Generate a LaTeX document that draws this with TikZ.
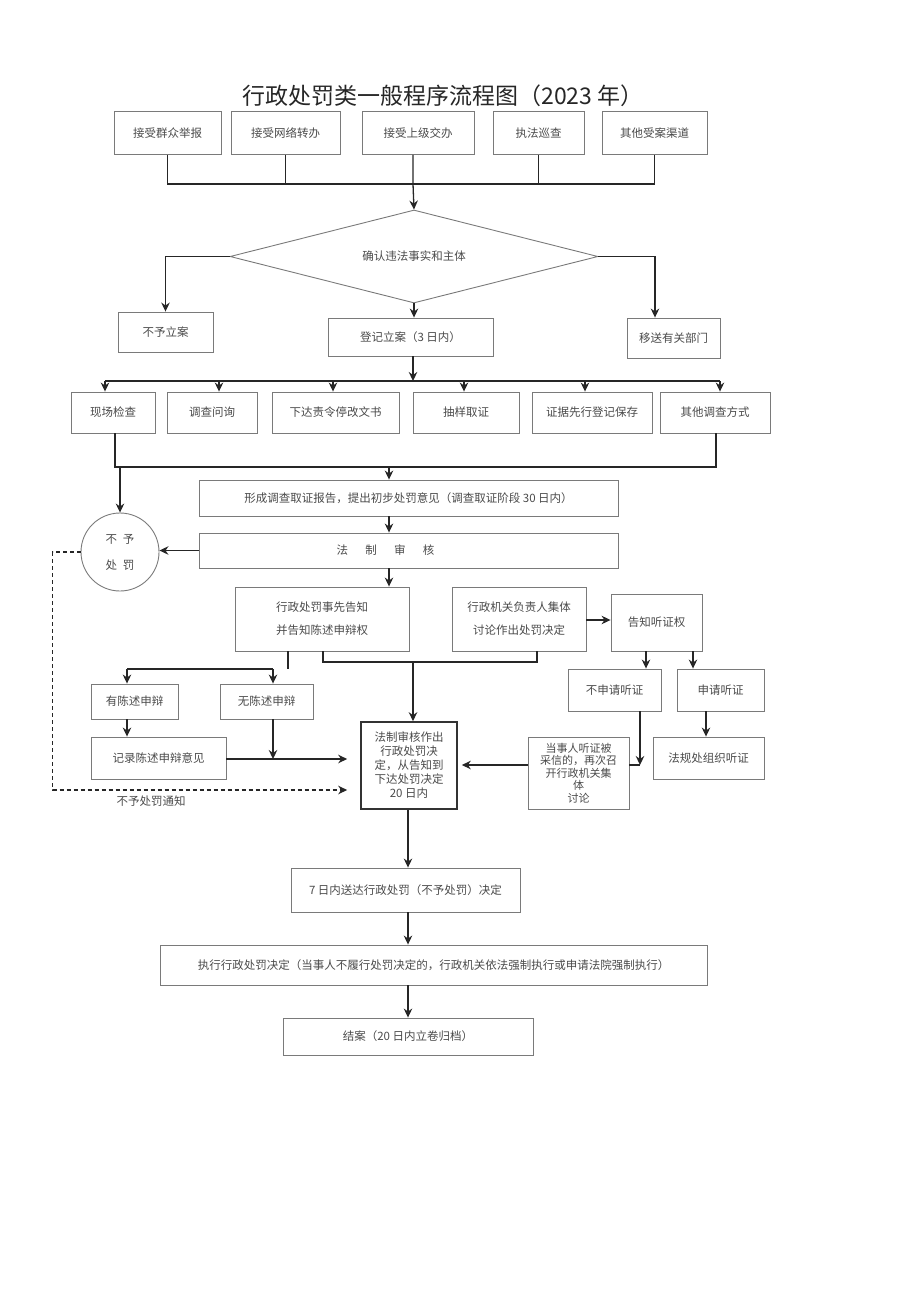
\documentclass[tikz,border=0pt]{standalone}
\usepackage{fontspec}
\setmainfont{Noto Sans CJK SC}
\usetikzlibrary{shapes.geometric,arrows.meta}
\definecolor{boxline}{HTML}{7A7A7A}
\definecolor{boxtext}{HTML}{4A4A4A}
\newcommand{\fs}{\fontsize{11.5}{14}\selectfont}
\begin{document}
\begin{tikzpicture}[x=1pt, y=-1pt,
    box/.style={draw=boxline, line width=0.9pt, inner sep=1pt, align=center,
                font=\fs, text=boxtext},
    conn/.style={draw=black!85, line width=1.3pt},
    arr/.style={conn, -{Stealth[length=9pt,width=8.5pt]}},
    dsh/.style={arr, dashed, dash pattern=on 4pt off 3pt},
  ]
  \useasboundingbox (0,0) rectangle (920,1301);

  % title
  \node[font=\fontsize{23}{25}\selectfont, text=black!85] (title) at (443,96)
    {行政处罚类一般程序流程图（2023 年）};

  % case sources
  \node[box, minimum width=107, minimum height=43] (t1) at (167.5,133) {接受群众举报};
  \node[box, minimum width=109, minimum height=43] (t2) at (285.5,133) {接受网络转办};
  \node[box, minimum width=112, minimum height=43] (t3) at (418,133)   {接受上级交办};
  \node[box, minimum width=91,  minimum height=43] (t4) at (538.5,133) {执法巡查};
  \node[box, minimum width=105, minimum height=43] (t5) at (654.5,133) {其他受案渠道};

  \coordinate (hub) at (413,184);
  \draw[conn] (t1.south) |- (t5.south |- hub) -- (t5.south);
  \draw[conn] (t2.south) -- (t2.south |- hub);
  \draw[conn] (t4.south) -- (t4.south |- hub);

  % filing decision
  \node[box, diamond, aspect=3.96, minimum width=368, minimum height=93, inner sep=0]
    (dia) at (414,256.5) {确认违法事实和主体};
  \node[box, minimum width=95,  minimum height=40] (nbl) at (165.5,332) {不予立案};
  \node[box, minimum width=165, minimum height=38] (djl) at (410.5,337) {登记立案（3 日内）};
  \node[box, minimum width=93,  minimum height=40] (ysb) at (673.5,338) {移送有关部门};

  \draw[arr] (t3.south -| hub) -- (hub) -- (dia.north);
  \draw[arr] (dia.west) -| (nbl.north);
  \draw[arr] (dia.east) -| (ysb.north -| 655,0);
  \draw[arr] (dia.south) -- (dia.south |- djl.north);

  % investigation
  \node[box, minimum width=84,  minimum height=41] (i1) at (113,412.5)   {现场检查};
  \node[box, minimum width=90,  minimum height=41] (i2) at (212,412.5)   {调查问询};
  \node[box, minimum width=127, minimum height=41] (i3) at (335.5,412.5) {下达责令停改文书};
  \node[box, minimum width=106, minimum height=41] (i4) at (466,412.5)   {抽样取证};
  \node[box, minimum width=120, minimum height=41] (i5) at (592,412.5)   {证据先行登记保存};
  \node[box, minimum width=110, minimum height=41] (i6) at (715,412.5)   {其他调查方式};

  \coordinate (bus) at (413,381);
  \coordinate (busL) at (105,381);
  \coordinate (busR) at (720,381);
  \draw[arr] (djl.south -| bus) -- (bus);
  \draw[conn] (busL) -- (busR);
  \foreach \n/\x in {i1/105, i2/219, i3/333, i4/464, i5/585, i6/720}
    \draw[arr] (\x,381) -- (\n.north -| \x,0);

  % report and review
  \node[box, minimum width=419, minimum height=36] (xc) at (408.5,498)
    {形成调查取证报告，提出初步处罚意见（调查取证阶段 30 日内）};
  \node[box, minimum width=419, minimum height=35] (fz) at (408.5,550.5)
    {法\hspace{1.5em}制\hspace{1.5em}审\hspace{1.5em}核\hspace{46pt}};
  \node[box, circle, minimum size=78, inner sep=0] (bcf) at (120,552)
    {不\hspace{0.5em}予\\[12pt]处\hspace{0.5em}罚};

  \coordinate (gat) at (389,467);
  \draw[conn] (i1.south -| 115,0) |- (716,467) -- (i6.south -| 716,0);
  \draw[arr] (gat) -- (xc.north -| gat);
  \draw[arr] (bcf.north |- gat) -- (bcf.north);
  \draw[arr] (xc.south -| gat) -- (fz.north -| gat);
  \draw[arr] (fz.west) -- (fz.west -| bcf.east);

  % notice and collective discussion
  \node[box, minimum width=174, minimum height=64] (sx) at (322,619)
    {行政处罚事先告知\\[9pt]并告知陈述申辩权};
  \node[box, minimum width=134, minimum height=64] (jt) at (519,619)
    {行政机关负责人集体\\[9pt]讨论作出处罚决定};
  \node[box, minimum width=91, minimum height=57] (gz) at (656.5,622.5) {告知听证权};
  \draw[arr] (fz.south -| gat) -- (sx.north -| gat);
  \draw[arr] (jt.east |- 0,620) -- (gz.west |- 0,620);

  % statement and defence
  \node[box, minimum width=87,  minimum height=35] (ycs) at (134.5,701.5) {有陈述申辩};
  \node[box, minimum width=93,  minimum height=35] (wcs) at (266.5,701.5) {无陈述申辩};
  \node[box, minimum width=135, minimum height=42] (jl)  at (158.5,758)   {记录陈述申辩意见};
  \node[box, draw=black!80, line width=1.6pt, minimum width=96, minimum height=87,
        font={\fontsize{11.5}{14}\selectfont}] (fzjd) at (409,765.5)
    {法制审核作出\\行政处罚决\\定，从告知到\\下达处罚决定\\20 日内};

  \draw[conn] (sx.south -| 323,0) |- (413,662) -| (jt.south -| 537,0);
  \draw[arr] (413,662) -- (fzjd.north -| 413,0);
  \draw[conn] (sx.south -| 288,0) -- (288,669);
  \draw[conn] (127,669) -- (273,669);
  \draw[arr] (127,669) -- (ycs.north -| 127,0);
  \draw[arr] (273,669) -- (wcs.north -| 273,0);
  \draw[arr] (ycs.south -| 127,0) -- (jl.north -| 127,0);
  \draw[arr, shorten >=13pt] (jl.east |- 0,759) -- (fzjd.west |- 0,759);
  \draw[arr] (wcs.south -| 273,0) -- (273,759);
  \draw[dsh, shorten >=13pt] (bcf.west) -- ++(-28,0)
    |- node[pos=0.66, below=2pt, font=\fs, text=boxtext] {不予处罚通知} (fzjd.west |- 0,790);

  % hearing
  \node[box, minimum width=93,  minimum height=42] (bsq) at (614.5,690) {不申请听证};
  \node[box, minimum width=87,  minimum height=42] (sq)  at (720.5,690) {申请听证};
  \node[box, minimum width=111, minimum height=42] (fg)  at (708.5,758) {法规处组织听证};
  \node[box, minimum width=101, minimum height=72, font={\fontsize{11}{12.5}\selectfont}]
    (ds) at (578.5,773) {当事人听证被\\采信的，再次召\\开行政机关集\\体\\讨论};

  \draw[arr] (gz.south -| 646,0) -- (bsq.north -| 646,0);
  \draw[arr] (gz.south -| 693,0) -- (sq.north -| 693,0);
  \draw[arr] (sq.south -| 706,0) -- (fg.north -| 706,0);
  \coordinate (c1) at (640,765);
  \draw[arr] (bsq.south -| c1) -- (c1);
  \draw[conn] (ds.east |- c1) -- (c1);
  \draw[arr, shorten >=4pt] (ds.west |- c1) -- (fzjd.east |- c1);

  % delivery, execution, closing
  \node[box, minimum width=229, minimum height=44] (sd) at (405.5,890)
    {7 日内送达行政处罚（不予处罚）决定};
  \node[box, minimum width=547, minimum height=40] (zx) at (433.5,965)
    {执行行政处罚决定（当事人不履行处罚决定的，行政机关依法强制执行或申请法院强制执行）};
  \node[box, minimum width=250, minimum height=37] (ja) at (408,1036.5)
    {结案（20 日内立卷归档）};

  \draw[arr] (fzjd.south -| 408,0) -- (sd.north -| 408,0);
  \draw[arr] (sd.south -| 408,0) -- (zx.north -| 408,0);
  \draw[arr] (zx.south -| 408,0) -- (ja.north);
\end{tikzpicture}
\end{document}
